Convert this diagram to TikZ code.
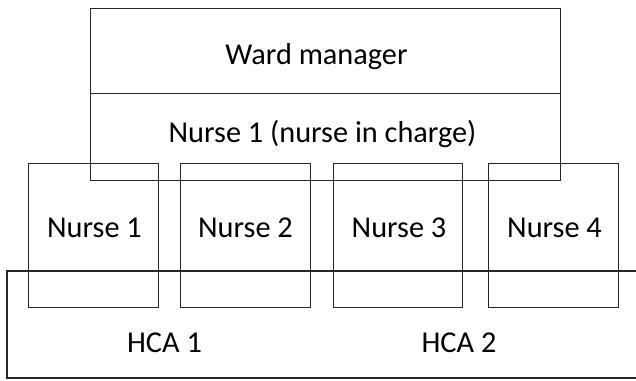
\documentclass[tikz,border=0pt]{standalone}
\usepackage{fontspec}
\setmainfont{Carlito}
\begin{document}
\begin{tikzpicture}[x=1bp,y=-1bp,
  box/.style={draw=black!85,line width=1.2bp,inner sep=0pt,anchor=north west},
  txt/.style={font=\fontsize{30.3bp}{34bp}\selectfont,text=black,inner sep=0pt,anchor=base}]
\useasboundingbox (0,0) rectangle (636,380);
% top boxes
\node[box,minimum width=470bp,minimum height=85bp] (wm) at (90,8) {};
\node[box,minimum width=470bp,minimum height=87bp] (nic) at (90,93) {};
\node[txt] (wmt) at (316.5,64) {Ward manager};
\node[txt] (nict) at (322.5,142) {Nurse 1 (nurse in charge)};
% nurse boxes
\node[box,minimum width=130bp,minimum height=144bp] (n1) at (28,163) {};
\node[box,minimum width=130bp,minimum height=144bp] (n2) at (180,163) {};
\node[box,minimum width=129bp,minimum height=144bp] (n3) at (333,163) {};
\node[box,minimum width=130bp,minimum height=144bp] (n4) at (488,163) {};
\node[txt] (n1t) at (94.5,237) {Nurse 1};
\node[txt] (n2t) at (245.5,237) {Nurse 2};
\node[txt] (n3t) at (399,237) {Nurse 3};
\node[txt] (n4t) at (554.5,237) {Nurse 4};
% HCA box (open to the right)
\coordinate (h1) at (637,271);
\coordinate (h2) at (7,271);
\coordinate (h3) at (7,378);
\coordinate (h4) at (637,378);
\draw[draw=black!85,line width=1.2bp] (h1) -- (h2) -- (h3) -- (h4);
\node[txt] (hca1) at (164.5,352) {HCA 1};
\node[txt] (hca2) at (459,352) {HCA 2};
\end{tikzpicture}
\end{document}
